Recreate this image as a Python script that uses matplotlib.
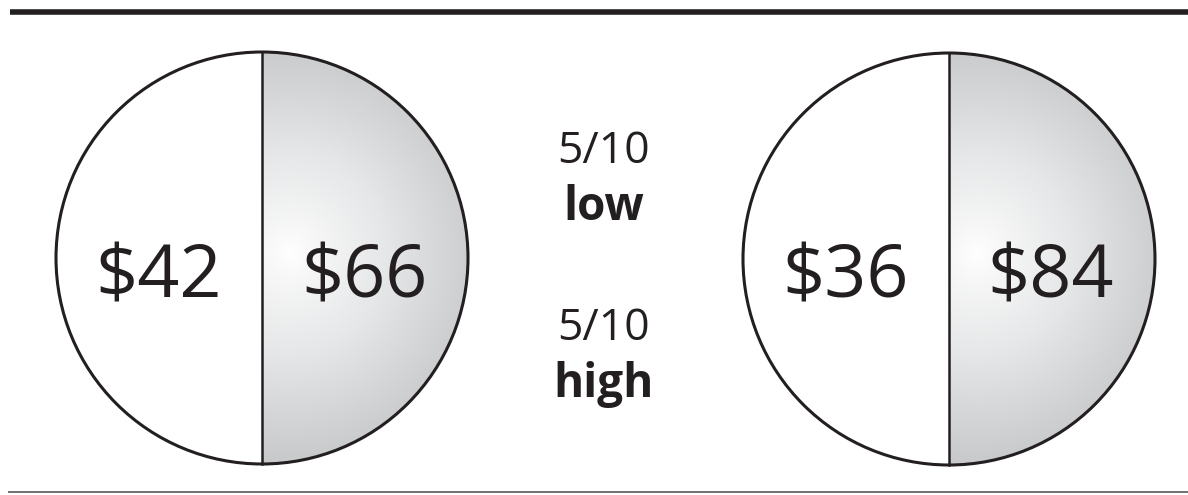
import numpy as np
import matplotlib.pyplot as plt
from matplotlib.patches import Circle, Wedge
from matplotlib.colors import LinearSegmentedColormap

# values shown in the two circles (left half / right half)
left_values = ["$42", "$36"]
right_values = ["$66", "$84"]
# middle labels
mid_scores = ["5/10", "5/10"]
mid_words = ["low", "high"]

W, H = 1188, 495
DARK = "#231f20"
FONT = "Open Sans"

fig = plt.figure(figsize=(W / 100, H / 100), dpi=100)
ax = fig.add_axes([0, 0, 1, 1])
ax.set_xlim(0, W)
ax.set_ylim(H, 0)
ax.set_aspect("equal")
ax.axis("off")

# rules at top and bottom
ax.plot([10, W], [11.5, 11.5], color=DARK, lw=4.0, solid_capstyle="butt")
ax.plot([8, W], [492, 492], color="#58595b", lw=1.2, solid_capstyle="butt")

centers = [(262, 258), (949, 259)]
r = 206
grad_cmap = LinearSegmentedColormap.from_list("g", ["#ffffff", "#e6e7e8", "#c4c5c7"])

for (cx, cy), lv, rv in zip(centers, left_values, right_values):
    # radial gradient on the right half
    xs = np.linspace(cx, cx + r, 240)
    ys = np.linspace(cy - r, cy + r, 480)
    X, Y = np.meshgrid(xs, ys)
    d = np.hypot(X - (cx + 28), (Y - (cy - 5)) * 0.95)
    t = np.clip(d / 215, 0, 1) ** 0.85
    im = ax.imshow(t, cmap=grad_cmap, vmin=0, vmax=1,
                   extent=[cx, cx + r, cy + r, cy - r], zorder=1, interpolation="bilinear")
    half = Wedge((cx, cy), r, -90, 90, transform=ax.transData, facecolor="none", edgecolor="none")
    ax.add_patch(half)
    im.set_clip_path(half)

    ax.add_patch(Circle((cx, cy), r, facecolor="none", edgecolor=DARK, lw=2.2, zorder=3))
    ax.plot([cx, cx], [cy - r, cy + r], color=DARK, lw=1.8, zorder=3)

    ax.text(cx - 103, 297, lv, ha="center", va="baseline", fontsize=53,
            family=FONT, color=DARK, parse_math=False, zorder=4)
    ax.text(cx + 102, 297, rv, ha="center", va="baseline", fontsize=53,
            family=FONT, color=DARK, parse_math=False, zorder=4)

mx = 604
for (yb_score, yb_word), s, w in zip([(163, 220), (340, 397)], mid_scores, mid_words):
    ax.text(mx, yb_score, s, ha="center", va="baseline", fontsize=32,
            family=FONT, color=DARK)
    ax.text(mx, yb_word, w, ha="center", va="baseline", fontsize=33,
            family=FONT, weight="bold", color=DARK)

fig.savefig("out.png", dpi=100, facecolor="white")
